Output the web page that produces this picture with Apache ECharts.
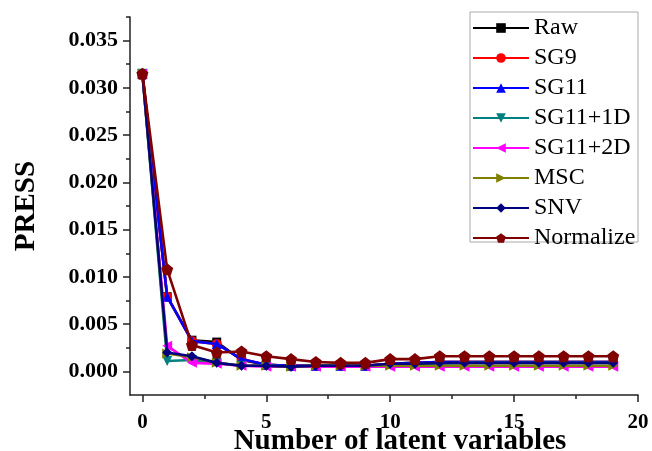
<!DOCTYPE html>
<html><head><meta charset="utf-8">
<script src="https://cdn.jsdelivr.net/npm/echarts@6/dist/echarts.min.js"></script>
<style>html,body{margin:0;padding:0;background:#fff}#c{width:652px;height:451px}</style>
</head><body><div id="c"></div>
<script>
var latentVars = [0,1,2,3,4,5,6,7,8,9,10,11,12,13,14,15,16,17,18,19];
var seriesNames = ['Raw','SG9','SG11','SG11+1D','SG11+2D','MSC','SNV','Normalize'];
var raw      = [0.0315,0.0079,0.0033,0.0031,0.0012,0.0007,0.0006,0.0006,0.0006,0.0006,0.0008,0.0009,0.0010,0.0010,0.0010,0.0010,0.0010,0.0010,0.0010,0.0010];
var sg9      = [0.0315,0.0079,0.0032,0.0029,0.0013,0.0007,0.0006,0.0006,0.0006,0.0006,0.0008,0.0009,0.0010,0.0010,0.0010,0.0010,0.0010,0.0010,0.0010,0.0010];
var sg11     = [0.0315,0.0079,0.0032,0.0029,0.0013,0.0007,0.0006,0.0006,0.0006,0.0006,0.0008,0.0009,0.0010,0.0010,0.0010,0.0010,0.0010,0.0010,0.0010,0.0010];
var sg11d1   = [0.0315,0.0011,0.0012,0.0009,0.0006,0.0006,0.0005,0.0006,0.0006,0.0006,0.0007,0.0008,0.0008,0.0009,0.0009,0.0009,0.0009,0.0009,0.0009,0.0009];
var sg11d2   = [0.0315,0.0027,0.0009,0.0008,0.0006,0.0005,0.0005,0.0005,0.0005,0.0005,0.0005,0.0005,0.0005,0.0005,0.0005,0.0005,0.0005,0.0005,0.0005,0.0005];
var msc      = [0.0315,0.0019,0.0015,0.0009,0.0006,0.0006,0.0005,0.0006,0.0006,0.0006,0.0006,0.0006,0.0006,0.0006,0.0006,0.0006,0.0006,0.0006,0.0006,0.0006];
var snv      = [0.0315,0.0020,0.0016,0.0009,0.0006,0.0006,0.0005,0.0006,0.0006,0.0006,0.0008,0.0008,0.0009,0.0009,0.0009,0.0009,0.0009,0.0009,0.0009,0.0009];
var normalize= [0.0315,0.0108,0.0028,0.0020,0.0021,0.0016,0.0013,0.0010,0.0009,0.0009,0.0013,0.0013,0.0016,0.0016,0.0016,0.0016,0.0016,0.0016,0.0016,0.0016];
var yMajorTicks = [0,0.005,0.010,0.015,0.020,0.025,0.030,0.035];
var yMinorTicks = [0.0025,0.0075,0.0125,0.0175,0.0225,0.0275,0.0325,0.0375];
var xMajorTicks = [0,5,10,15,20];
var xMinorTicks = [2.5,7.5,12.5,17.5];

var allValues = [raw,sg9,sg11,sg11d1,sg11d2,msc,snv,normalize];
var colors = ['#000000','#ff0000','#0000ff','#008080','#ff00ff','#808000','#000080','#800000'];
var pentagon = 'path://M0,-1L0.951,-0.309L0.588,0.809L-0.588,0.809L-0.951,-0.309Z';
var symbols = ['rect','circle','triangle','triangle','triangle','triangle','diamond',pentagon];
var rotates = [0,0,0,180,90,-90,0,0];
var sizes = [9,10,10,10,10,10,10,12];

var FONT = 'Liberation Serif';
var series = seriesNames.map(function(n,i){
  return {
    name:n, type:'line',
    data: latentVars.map(function(x,j){return [x, allValues[i][j]];}),
    symbol:symbols[i], symbolRotate:rotates[i], symbolSize:sizes[i],
    lineStyle:{color:colors[i], width:2.6},
    itemStyle:{color:colors[i]},
    z: 2+i
  };
});

var chart = echarts.init(document.getElementById('c'));
chart.setOption({
  animation:false,
  backgroundColor:'#fff',
  grid:{left:130,right:14,top:17,bottom:56,containLabel:false,outerBoundsMode:'none'},
  xAxis:[{
    type:'value', min:-0.5, max:20, position:'bottom',
    name:'Number of latent variables', nameLocation:'middle', nameGap:32, nameMoveOverlap:false,
    nameTextStyle:{fontFamily:FONT,fontWeight:'bold',fontSize:29,color:'#000',padding:[0,0,0,32]},
    axisLine:{show:true,onZero:false,lineStyle:{color:'#222',width:1.5}},
    axisTick:{show:true,inside:false,length:7,customValues:xMajorTicks,lineStyle:{color:'#222',width:1.5}},
    axisLabel:{show:true,margin:17,customValues:xMajorTicks,fontFamily:FONT,fontWeight:'bold',fontSize:21,color:'#000'},
    splitLine:{show:false}
  },{
    type:'value', min:-0.5, max:20, position:'bottom',
    axisLine:{show:false,onZero:false}, axisLabel:{show:false},
    axisTick:{show:true,length:4,customValues:xMinorTicks,lineStyle:{color:'#222',width:1.5}},
    splitLine:{show:false}
  }],
  yAxis:[{
    type:'value', min:-0.0025, max:0.0375, position:'left',
    name:'PRESS', nameLocation:'middle', nameGap:89, nameRotate:90, nameMoveOverlap:false,
    nameTextStyle:{fontFamily:FONT,fontWeight:'bold',fontSize:29,color:'#000'},
    axisLine:{show:true,onZero:false,lineStyle:{color:'#222',width:1.5}},
    axisTick:{show:true,length:7,customValues:yMajorTicks,lineStyle:{color:'#222',width:1.5}},
    axisLabel:{show:true,margin:12,customValues:yMajorTicks,fontFamily:FONT,fontWeight:'bold',fontSize:22,color:'#000',
      formatter:function(v){return v.toFixed(3);}},
    splitLine:{show:false}
  },{
    type:'value', min:-0.0025, max:0.0375, position:'left',
    axisLine:{show:false,onZero:false}, axisLabel:{show:false},
    axisTick:{show:true,length:4,customValues:yMinorTicks,lineStyle:{color:'#222',width:1.5}},
    splitLine:{show:false}
  }],
  legend:{
    orient:'vertical', left:472, top:16, padding:0,
    itemWidth:56, itemHeight:12, itemGap:6,
    data:seriesNames,
    textStyle:{fontFamily:FONT,fontSize:24,color:'#000',lineHeight:24,padding:[0,0,0,0]},
    borderWidth:0
  },
  graphic:[{type:'rect',shape:{x:470,y:12,width:168,height:230},style:{fill:'none',stroke:'#aaa',lineWidth:1},z:0,silent:true}],
  series:series
});
</script></body></html>
